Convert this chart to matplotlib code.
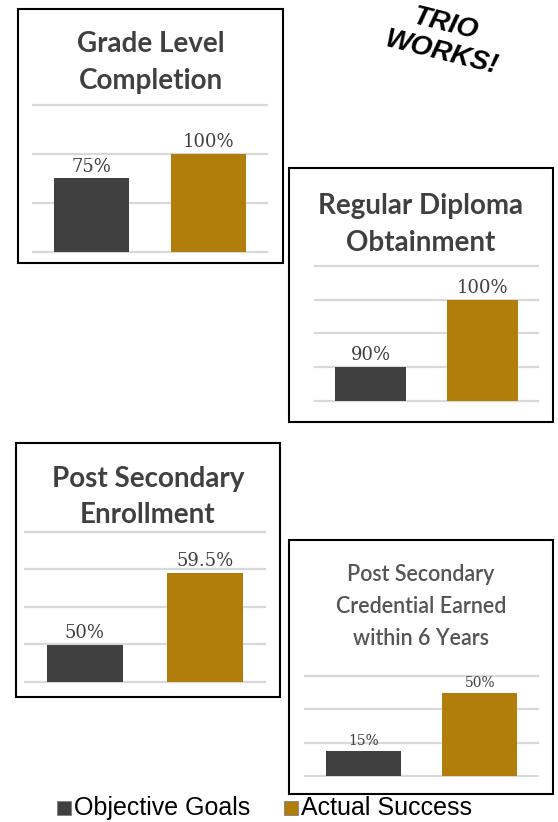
import matplotlib
matplotlib.use("Agg")
import matplotlib.pyplot as plt
from matplotlib.patches import Rectangle

W, H = 558, 822

series_names = ["Objective Goals", "Actual Success"]
colors = ["#404040", "#B17E0B"]

titles = [
    ["Grade Level", "Completion"],
    ["Regular Diploma", "Obtainment"],
    ["Post Secondary", "Enrollment"],
    ["Post Secondary", "Credential Earned", "within 6 Years"],
]
objective = [75, 90, 50, 15]
actual = [100, 100, 59.5, 50]
labels_obj = ["75%", "90%", "50%", "15%"]
labels_act = ["100%", "100%", "59.5%", "50%"]
y_ranges = [(0, 150, 50), (85, 105, 5), (45, 65, 5), (0, 60, 20)]

# layout (pixels)
boxes = [(18, 9, 283, 263), (289, 168, 553, 422), (16, 443, 280, 697), (289, 540, 553, 794)]
axes_px = [(33, 105, 267, 252), (315, 266, 538, 401), (25, 532, 265, 682), (305, 676, 538, 776)]
title_lines_y = [[44, 81], [206, 243], [479, 515], [574, 606, 638]]
title_size = [20, 20, 20, 15.5]
title_weight = ["bold", "bold", "bold", "semibold"]
title_color = ["#404040", "#404040", "#404040", "#555555"]
label_size = [13, 13, 13, 10]

fig = plt.figure(figsize=(W / 100, H / 100), dpi=100)
fig.patch.set_facecolor("white")


def fx(x):
    return x / W


def fy(y):
    return 1 - y / H


for i in range(4):
    x0, y0, x1, y1 = boxes[i]
    fig.patches.append(Rectangle((fx(x0), fy(y1)), fx(x1) - fx(x0), fy(y0) - fy(y1),
                                 transform=fig.transFigure, fill=False,
                                 edgecolor="black", linewidth=1.5, zorder=10))
    ax0, ay0, ax1, ay1 = axes_px[i]
    ax = fig.add_axes([fx(ax0), fy(ay1), fx(ax1) - fx(ax0), fy(ay0) - fy(ay1)])
    lo, hi, step = y_ranges[i]
    ax.set_xlim(-0.5, 1.5)
    ax.set_ylim(lo, hi)
    v = lo
    while v <= hi + 1e-9:
        ax.axhline(v, color="#d9d9d9", linewidth=1.6, zorder=0, clip_on=False)
        v += step
    vals = [objective[i], actual[i]]
    labs = [labels_obj[i], labels_act[i]]
    ax.bar([0, 1], [val - lo for val in vals], width=0.64, bottom=lo, color=colors, zorder=2)
    for xi, val, lab in zip([0, 1], vals, labs):
        ax.annotate(lab, (xi, val), xytext=(0, 2), textcoords="offset points",
                    ha="center", va="bottom", fontsize=label_size[i],
                    family="DejaVu Serif", color="#404040", zorder=3)
    ax.axis("off")
    cx = (x0 + x1) / 2
    for line, ly in zip(titles[i], title_lines_y[i]):
        fig.text(fx(cx), fy(ly), line, ha="center", va="center", fontsize=title_size[i],
                 fontweight=title_weight[i], family="Lato", color=title_color[i])

# legend
leg_items = [(57, series_names[0]), (284, series_names[1])]
for (lx, name), c in zip(leg_items, colors):
    fig.patches.append(Rectangle((fx(lx), fy(815)), fx(14), 14 / H, transform=fig.transFigure,
                                 facecolor=c, edgecolor="#808080", linewidth=0.6))
    fig.text(fx(lx + 17), fy(808), name, ha="left", va="center", fontsize=18,
             family="Liberation Sans", color="black")

# TRIO WORKS!
fig.text(fx(445), fy(24), "TRIO", ha="center", va="center", fontsize=20, fontweight="bold",
         fontstyle="italic", family="Liberation Sans", rotation=-14, color="black")
fig.text(fx(442), fy(53), "WORKS!", ha="center", va="center", fontsize=20, fontweight="bold",
         fontstyle="italic", family="Liberation Sans", rotation=-14, color="black")

fig.savefig("out.png", dpi=100, facecolor="white")
